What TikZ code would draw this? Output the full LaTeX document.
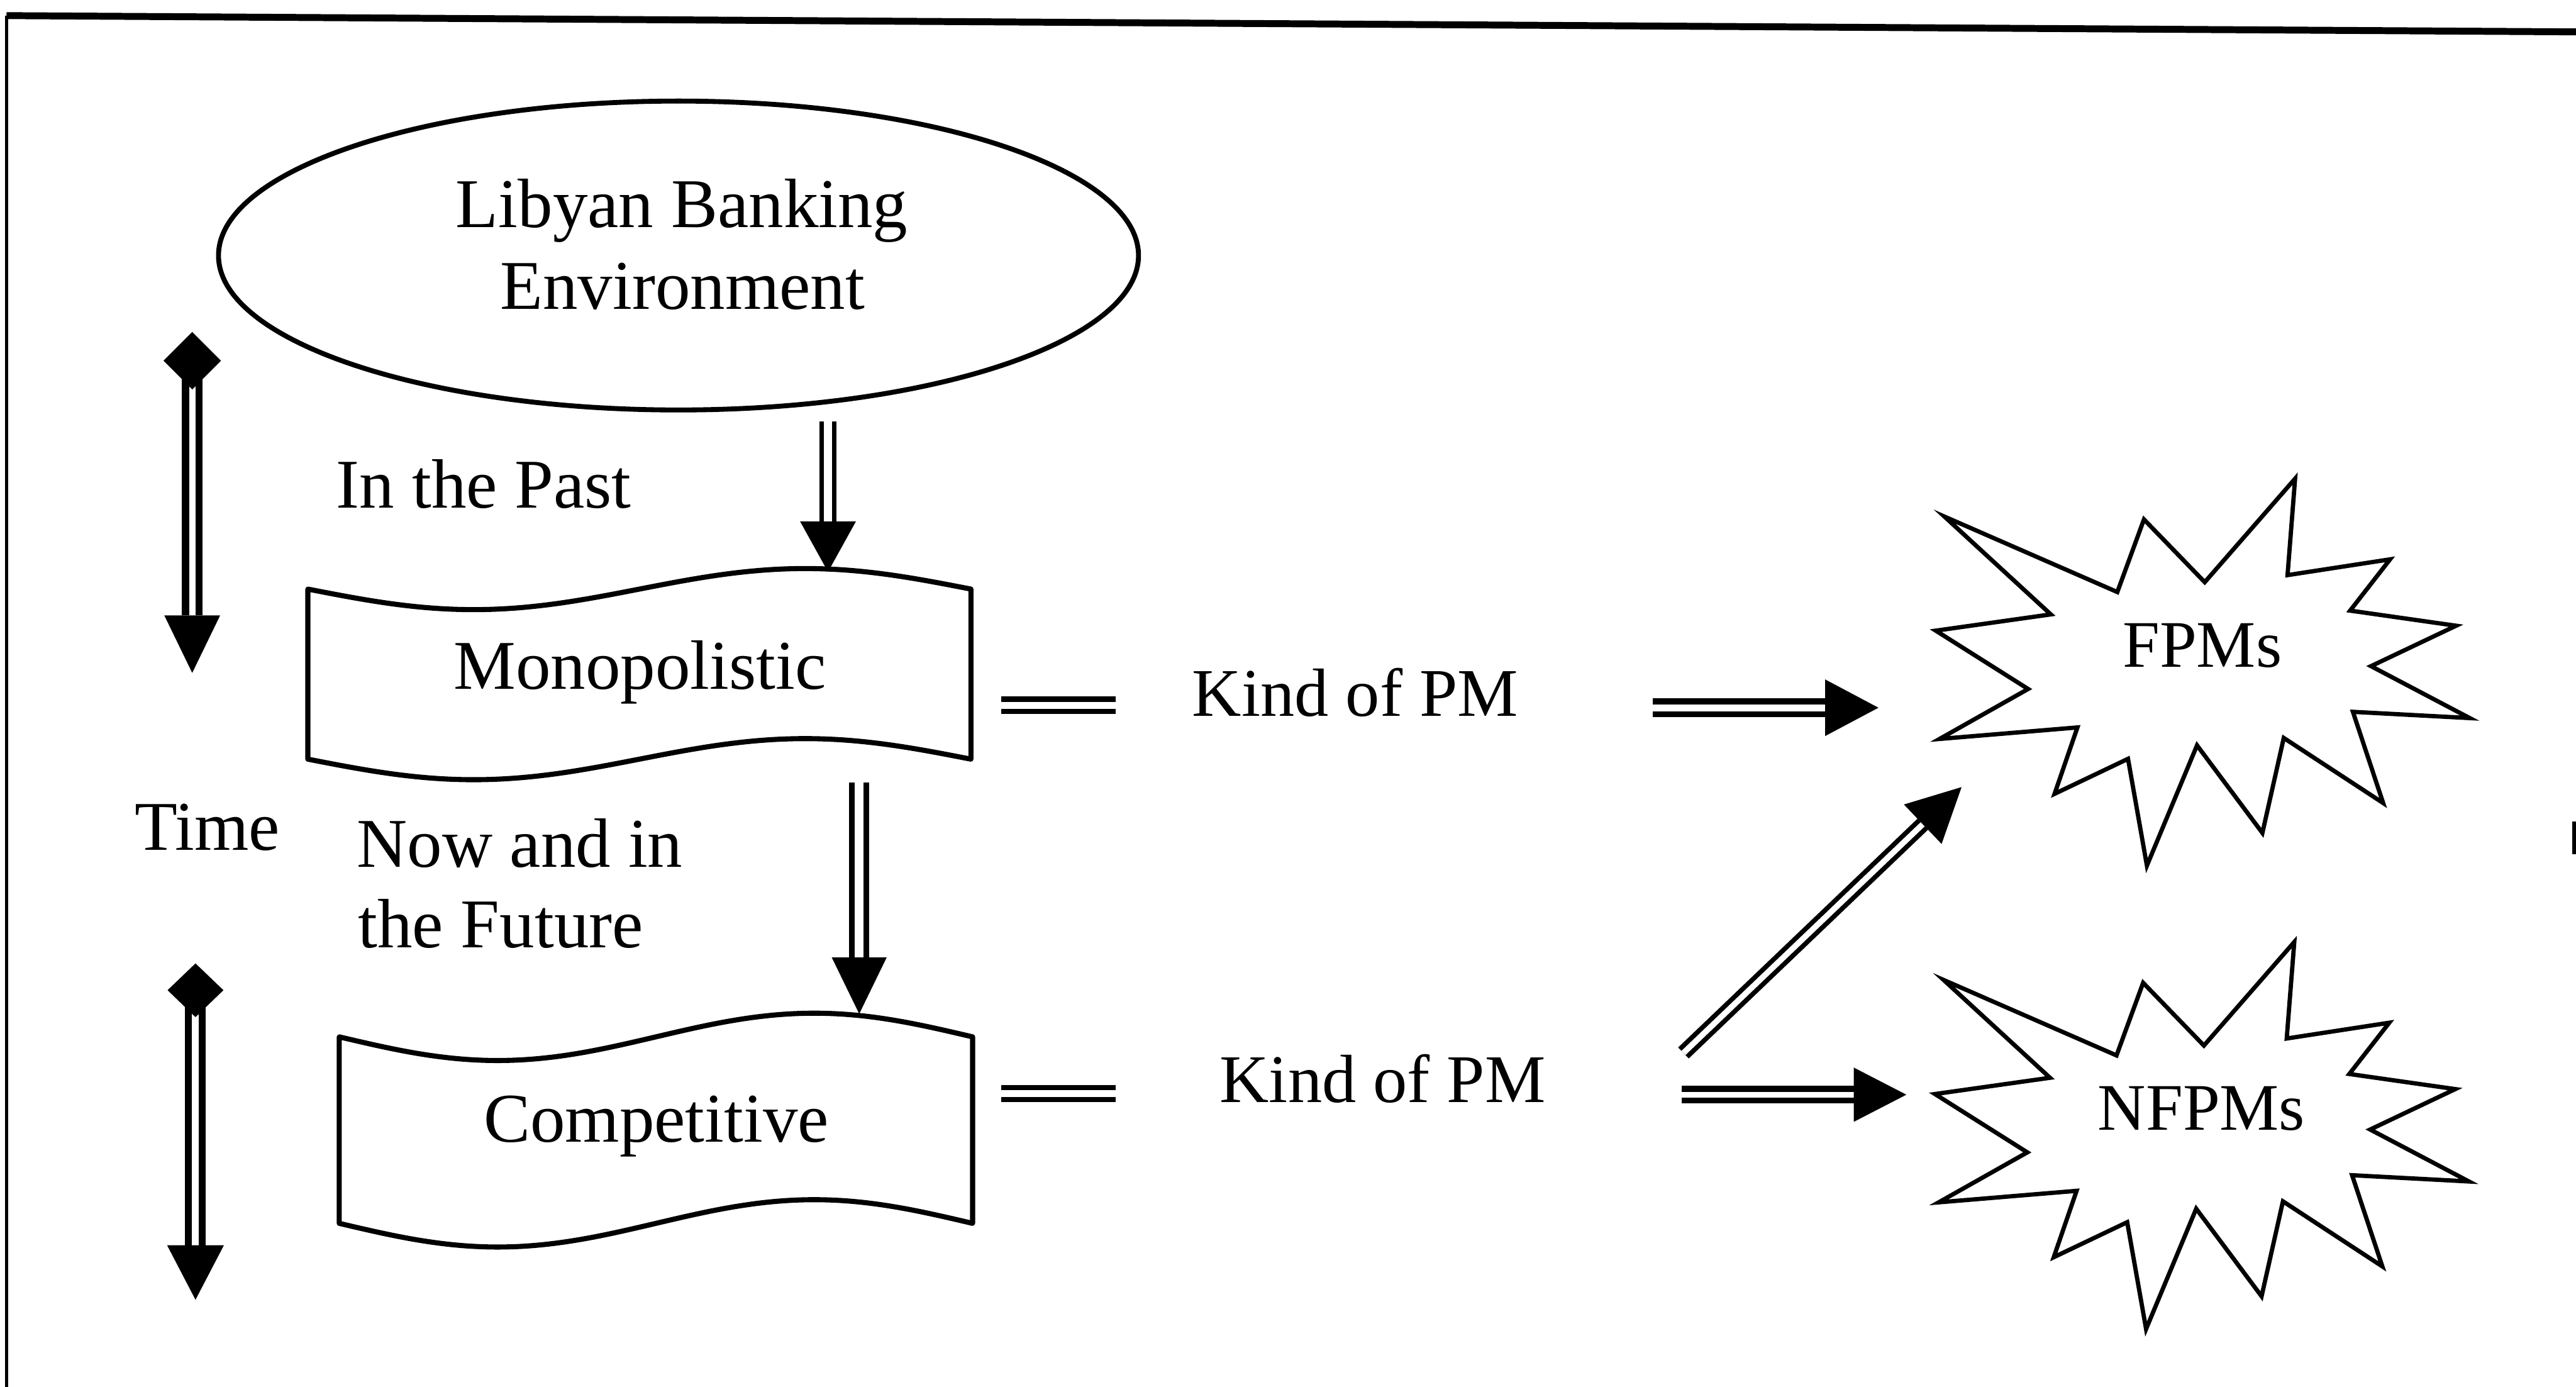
\documentclass[tikz,border=0pt]{standalone}
\usepackage{fontspec}
\setmainfont{Liberation Serif}
\usetikzlibrary{calc,shapes.geometric}

% double-lined arrow with a solid triangular head
% #1 start, #2 tip, #3 line width, #4 gap, #5 head length, #6 head half width
\newcommand\dblarrow[6]{%
  \coordinate (hb) at ($(#2)!#5!(#1)$);
  \draw[line width=#3, double=white, double distance=#4] (#1) -- (hb);
  \fill ($(hb)!#6!90:(#2)$) -- (#2) -- ($(hb)!#6!-90:(#2)$) -- cycle;
}

% punched-tape outline: #1 left x, #2 right x, #3 top y, #4 bottom y, #5 wave amplitude
\newcommand\tapeoutline[5]{%
  \pgfmathsetmacro\tw{(#2-#1)/4}
  \draw[outline] (#1,#3) sin ++(\tw,#5) cos ++(\tw,-#5) sin ++(\tw,-#5) cos ++(\tw,#5)
    -- (#2,#4) sin ++(-\tw,-#5) cos ++(-\tw,#5) sin ++(-\tw,#5) cos ++(-\tw,-#5) -- cycle;
}

% twelve-point burst around a label's baseline point
\newcommand\burst[1]{%
  \begin{scope}[shift={(#1)}]
    \draw[starline] (-156.9,-91.4) -- (-51.7,-45.5) -- (-35.5,-89.7) -- (1.5,-51.5)
      -- (56.5,-114.5) -- (51.9,-55.8) -- (114.3,-65.4) -- (90,-34.2)
      -- (154.5,-25) -- (102.7,-0.4) -- (162.8,31.2) -- (91.7,27.4)
      -- (110.1,82.9) -- (49.6,43.3) -- (36.6,101.1) -- (-3.2,47.8)
      -- (-33.7,121) -- (-45.2,56) -- (-89.9,77.3) -- (-76,36.9)
      -- (-159.9,43.9) -- (-106,13.5) -- (-162.2,-22) -- (-92.2,-31.9) -- cycle;
  \end{scope}
}

\begin{document}
\begin{tikzpicture}[x=1pt,y=-1pt,
  lbl/.style={inner sep=0pt, font=\fontsize{42.5}{50}\selectfont},
  pmlbl/.style={inner sep=0pt, font=\fontsize{41.5}{50}\selectfont},
  starlbl/.style={inner sep=0pt, font=\fontsize{40.5}{50}\selectfont},
  outline/.style={line width=3.1pt, line join=round},
  starline/.style={line width=2.6pt, line join=miter},
  eqline/.style={line width=3.2pt, double=white, double distance=4.3pt},
]
\useasboundingbox (0,0) rectangle (1568,844);

% frame
\coordinate (fTL) at (4,9.5);
\coordinate (fTR) at (1568,19.4);
\coordinate (fBL) at (4,844);
\draw[line width=4.2pt] (fTL) -- (fTR);
\draw[line width=1.6pt] (fTL) -- (fBL);
\coordinate (tickA) at (1566.8,500);
\coordinate (tickB) at (1566.8,520);
\draw[line width=2.5pt] (tickA) -- (tickB);

% environment ellipse
\node[draw, ellipse, line width=3pt, minimum width=560pt, minimum height=188pt, inner sep=0pt] (env) at (413,155.5) {};
\node[lbl, anchor=base] (envA) at (415,138.3) {Libyan Banking};
\node[lbl, anchor=base] (envB) at (415.5,188.3) {Environment};

% market types
\tapeoutline{187.4}{591}{358.5}{462}{12.5}
\tapeoutline{206.5}{592}{631}{744.5}{14.4}
\node[lbl, anchor=base] (mono) at (389.5,419.3) {Monopolistic};
\node[lbl, anchor=base] (comp) at (399.5,694.8) {Competitive};

% side labels
\node[lbl, anchor=base west] (past) at (204.6,309) {In the Past};
\node[lbl, anchor=base west] (time) at (82,517.3) {Time};
\node[lbl, anchor=base west] (nowA) at (217,527.8) {Now and in};
\node[lbl, anchor=base west] (nowB) at (217.8,576.7) {the Future};

% kinds of performance measures
\node[pmlbl, anchor=base west] (kindA) at (725.6,435.7) {Kind of PM};
\node[pmlbl, anchor=base west] (kindB) at (742.3,670.8) {Kind of PM};
\node[starlbl, anchor=base] (fpm) at (1340.5,405.8) {FPMs};
\node[starlbl, anchor=base] (nfpm) at (1340,687.8) {NFPMs};
\burst{fpm.base}
\burst{nfpm.base}

% time axis arrows
\coordinate (timeAs) at (117,222);
\coordinate (timeAe) at (117,409.5);
\dblarrow{timeAs}{timeAe}{4.3pt}{3.8pt}{35pt}{17pt}
\fill (117,202) -- (134.5,219.5) -- (117,237) -- (99.5,219.5) -- cycle;
\coordinate (timeBs) at (119,605);
\coordinate (timeBe) at (119,791);
\dblarrow{timeBs}{timeBe}{4.2pt}{4.2pt}{33.2pt}{17.3pt}
\fill (119,586.3) -- (136,602.6) -- (119,619) -- (102,602.6) -- cycle;

% flow from the environment down the market types
\coordinate (envOut) at (504,256.4);
\coordinate (monoIn) at (504,348);
\dblarrow{envOut}{monoIn}{2.7pt}{5pt}{30.7pt}{17pt}
\coordinate (monoOut) at (523,476.3);
\coordinate (compIn) at (523,617);
\dblarrow{monoOut}{compIn}{3.6pt}{5.2pt}{34.3pt}{16.7pt}

% equivalences
\coordinate (eqAa) at (609.5,429.2);
\coordinate (eqAb) at (679,429.2);
\draw[eqline] (eqAa) -- (eqAb);
\coordinate (eqBa) at (609.5,665.5);
\coordinate (eqBb) at (679,665.5);
\draw[eqline] (eqBa) -- (eqBb);

% arrows to the measure types
\coordinate (kindAout) at (1005.9,430.7);
\coordinate (fpmIn) at (1143.4,430.7);
\dblarrow{kindAout}{fpmIn}{3.6pt}{4.2pt}{32.4pt}{17.2pt}
\coordinate (kindBout) at (1023.7,666.2);
\coordinate (nfpmIn) at (1160.4,666.2);
\dblarrow{kindBout}{nfpmIn}{3.7pt}{3.4pt}{32pt}{16.5pt}
\coordinate (kindBup) at (1024.7,640.8);
\coordinate (fpmInB) at (1194,479);
\dblarrow{kindBup}{fpmInB}{2.9pt}{3.5pt}{32.7pt}{16.6pt}
\end{tikzpicture}
\end{document}
